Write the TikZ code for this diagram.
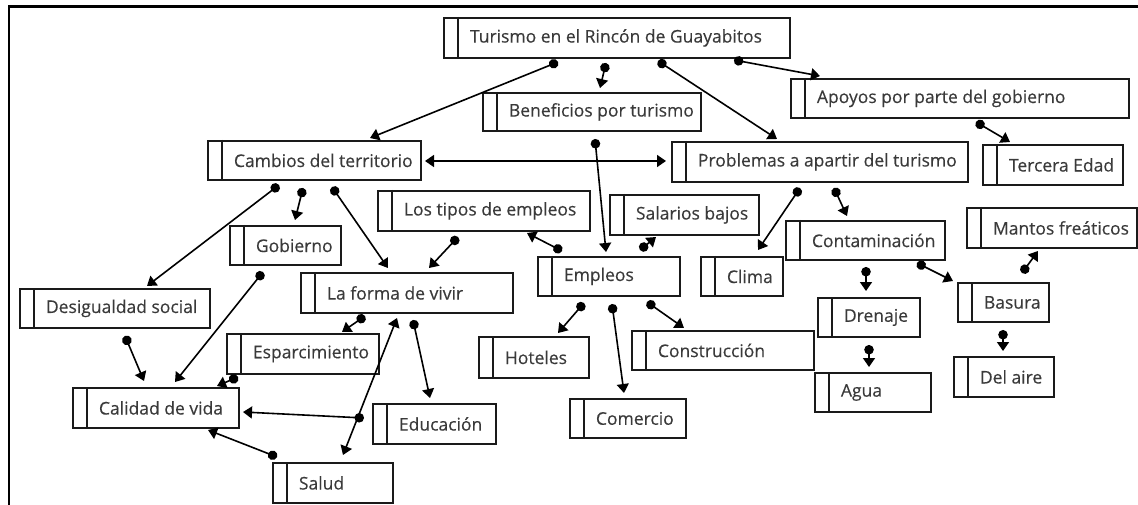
\documentclass[tikz,border=0pt]{standalone}
\usepackage{fontspec}
\setmainfont{Open Sans}[FakeBold=0.35]
\usetikzlibrary{arrows.meta}
\definecolor{txt}{HTML}{3A3A3A}
\definecolor{ln}{HTML}{1A1A1A}
\tikzset{
 box/.style={draw=ln, line width=1.9pt, rectangle, inner sep=0pt, anchor=north west, text=txt, font=\fontsize{17.5}{20}\selectfont},
 strip/.style={draw=ln, line width=1.9pt},
 conn/.style={draw=black, line width=1.6pt, {Circle[length=9.5pt]}-{Triangle[length=9pt,width=12pt]}},
 dconn/.style={draw=black, line width=1.6pt, {Triangle[length=9pt,width=12pt]}-{Triangle[length=9pt,width=12pt]}},
 frame/.style={draw=black, line width=2.2pt},
}
\newcommand\bx[6]{%
 \node[box, minimum width={#4-#2}, minimum height={#5-#3}] (#1) at (#2,#3) {\makebox[\dimexpr#4pt-#2pt\relax][l]{\hspace*{26pt}#6}};
 \draw[strip] ([xshift=15pt]#1.north west) -- ([xshift=15pt]#1.south west);}
\begin{document}
\begin{tikzpicture}[x=1pt,y=-1pt]
\useasboundingbox (0,0) rectangle (1138,505);
\draw[frame] (1138,6.5) -- (9,6.5) -- (9,505);
\bx{turismo}{443}{17}{789}{57}{Turismo en el Rincón de Guayabitos}
\bx{benef}{482}{92}{700}{130}{Beneficios por turismo}
\bx{apoyos}{790}{78}{1128}{117}{Apoyos por parte del gobierno}
\bx{cambios}{207}{140}{420}{179}{Cambios del territorio}
\bx{problemas}{671}{141}{967}{181}{Problemas a apartir del turismo}
\bx{tercera}{982}{144}{1122}{184}{Tercera Edad}
\bx{gobierno}{229}{225}{340}{264}{Gobierno}
\bx{tipos}{377}{190}{589}{230}{Los tipos de empleos}
\bx{salarios}{609}{194}{758}{234}{Salarios bajos}
\bx{forma}{300}{272}{512}{312}{La forma de vivir}
\bx{empleos}{537}{256}{679}{295}{Empleos}
\bx{clima}{700}{256}{782}{295}{Clima}
\bx{contam}{785}{220}{944}{259}{Contaminación}
\bx{mantos}{966}{207}{1136}{247}{Mantos freáticos}
\bx{basura}{957}{282}{1048}{321}{Basura}
\bx{drenaje}{817}{297}{919}{336}{Drenaje}
\bx{agua}{814}{372}{930}{411}{Agua}
\bx{delaire}{953}{356}{1053}{396}{Del aire}
\bx{desig}{19}{288}{209}{327}{Desigualdad social}
\bx{espar}{226}{333}{378}{373}{Esparcimiento}
\bx{calidad}{72}{387}{238}{427}{Calidad de vida}
\bx{educ}{372}{403}{495}{443}{Educación}
\bx{salud}{272}{462}{392}{502}{Salud}
\bx{hoteles}{478}{336}{588}{377}{Hoteles}
\bx{constr}{631}{330}{813}{369}{Construcción}
\bx{comercio}{569}{398}{685}{437}{Comercio}
% connectors
\draw[conn] ([shift={(115,45)}]turismo.north west) -- ([shift={(163,-2)}]cambios.north west);
\draw[conn] ([shift={(163,46)}]turismo.north west) -- ([shift={(118,-4)}]benef.north west);
\draw[conn] ([shift={(215,44)}]turismo.north west) -- ([shift={(106,-2)}]problemas.north west);
\draw[conn] ([shift={(291,43)}]turismo.north west) -- ([shift={(30,-2)}]apoyos.north west);
\draw[conn] ([shift={(186,44)}]apoyos.north west) -- ([shift={(28,-2)}]tercera.north west);
\draw[conn] ([shift={(113,47)}]benef.north west) -- ([shift={(69,-4)}]empleos.north west);
\draw[dconn] ([shift={(218,21)}]cambios.north west) -- ([shift={(-5,20)}]problemas.north west);
\draw[conn] ([shift={(72,45)}]cambios.north west) -- ([shift={(128,-2)}]desig.north west);
\draw[conn] ([shift={(96,48)}]cambios.north west) -- ([shift={(66,-5)}]gobierno.north west);
\draw[conn] ([shift={(125,47)}]cambios.north west) -- ([shift={(88,-4)}]forma.north west);
\draw[conn] ([shift={(34,47)}]gobierno.north west) -- ([shift={(103,-5)}]calidad.north west);
\draw[conn] ([shift={(106,48)}]desig.north west) -- ([shift={(72,-6)}]calidad.north west);
\draw[conn] ([shift={(81,47)}]tipos.north west) -- ([shift={(129,-4)}]forma.north west);
\draw[conn] ([shift={(25,-5)}]empleos.north west) -- ([shift={(150,43)}]tipos.north west);
\draw[conn] ([shift={(103,-6)}]empleos.north west) -- ([shift={(47,43)}]salarios.north west);
\draw[conn] ([shift={(47,47)}]empleos.north west) -- ([shift={(80,-3)}]hoteles.north west);
\draw[conn] ([shift={(75,48)}]empleos.north west) -- ([shift={(55,-5)}]comercio.north west);
\draw[conn] ([shift={(110,46)}]empleos.north west) -- ([shift={(53,-2)}]constr.north west);
\draw[conn] ([shift={(129,47)}]problemas.north west) -- ([shift={(58,-6)}]clima.north west);
\draw[conn] ([shift={(163,47)}]problemas.north west) -- ([shift={(62,-4)}]contam.north west);
\draw[conn] ([shift={(81,47)}]contam.north west) -- ([shift={(49,-6)}]drenaje.north west);
\draw[conn] ([shift={(132,43)}]contam.north west) -- ([shift={(-4,-1)}]basura.north west);
\draw[conn] ([shift={(65,-9)}]basura.north west) -- ([shift={(72,44)}]mantos.north west);
\draw[conn] ([shift={(46,48)}]basura.north west) -- ([shift={(50,-5)}]delaire.north west);
\draw[conn] ([shift={(52,48)}]drenaje.north west) -- ([shift={(55,-5)}]agua.north west);
\draw[conn] ([shift={(65,44)}]forma.north west) -- ([shift={(116,-1)}]espar.north west);
\draw[dconn] ([shift={(97,46)}]forma.north west) -- ([shift={(71,-7)}]salud.north west);
\draw[conn] ([shift={(113,48)}]forma.north west) -- ([shift={(58,-5)}]educ.north west);
\draw[conn] ([shift={(12,44)}]espar.north west) -- ([shift={(145,-1)}]calidad.north west);
\draw[conn] ([shift={(-8,15)}]educ.north west) -- ([shift={(171,25)}]calidad.north west);
\draw[conn] ([shift={(5,-5)}]salud.north west) -- ([shift={(136,43)}]calidad.north west);
\end{tikzpicture}
\end{document}
